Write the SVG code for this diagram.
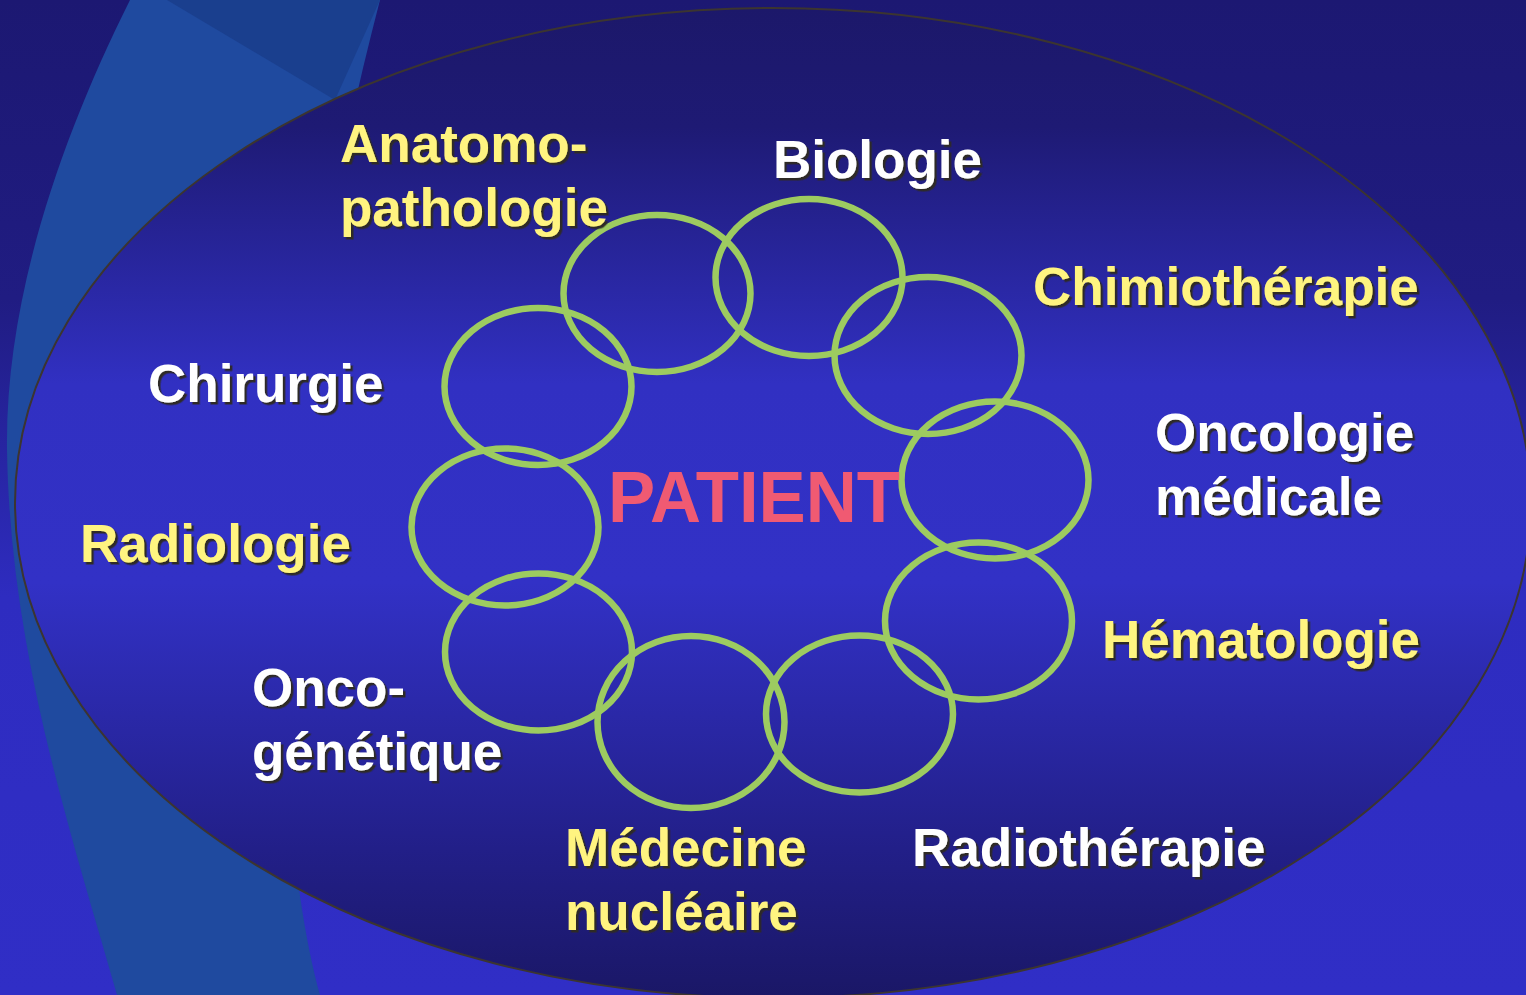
<svg xmlns="http://www.w3.org/2000/svg" width="1526" height="995" viewBox="0 0 1526 995">
<defs>
<linearGradient id="bg" x1="0" y1="0" x2="0" y2="995" gradientUnits="userSpaceOnUse">
<stop offset="0" stop-color="#1c1872"/>
<stop offset="0.3" stop-color="#201c82"/>
<stop offset="0.6" stop-color="#2e2cc0"/>
<stop offset="1" stop-color="#302ec6"/>
</linearGradient>
<linearGradient id="ell" x1="0" y1="8" x2="0" y2="998" gradientUnits="userSpaceOnUse">
<stop offset="0" stop-color="#1c186a"/>
<stop offset="0.12" stop-color="#1e1a74"/>
<stop offset="0.38" stop-color="#3130c2"/>
<stop offset="0.58" stop-color="#3231c6"/>
<stop offset="0.85" stop-color="#221f88"/>
<stop offset="1" stop-color="#1a1766"/>
</linearGradient>
<filter id="sh" x="-5%" y="-20%" width="110%" height="140%">
<feDropShadow dx="2.5" dy="2.5" stdDeviation="0.3" flood-color="#2f2a26" flood-opacity="1"/>
</filter>
<style>
.lbl{font-family:"Liberation Sans",Arial,Helvetica,sans-serif;font-weight:bold;font-size:53px;filter:url(#sh)}
.y{fill:#fff480}
.w{fill:#ffffff}
.ring{fill:none;stroke:#9dcb60;stroke-width:6.5}
.pat{font-family:"Liberation Sans",Arial,Helvetica,sans-serif;font-weight:bold;font-size:72px;fill:#f05a72}
</style>
</defs>
<rect x="0" y="0" width="1526" height="995" fill="url(#bg)"/>
<path d="M130,0 C60,140 5,300 7,450 C10,650 70,830 117,995 L320,995 C280,850 250,500 380,0 Z" fill="#1f4a9f"/>
<path d="M167,0 L380,0 L335,100 Z" fill="#1a3f8e"/>
<ellipse cx="773" cy="503" rx="758" ry="495" fill="url(#ell)" stroke="#3c3530" stroke-width="2"/>
<g id="connectors"></g>
<g id="n-anatomo"><ellipse class="ring" cx="657" cy="293.5" rx="93.5" ry="78.5"/><text class="lbl y" x="340" y="162">Anatomo-</text><text class="lbl y" x="340" y="226">pathologie</text></g>
<g id="n-biologie"><ellipse class="ring" cx="809" cy="277.5" rx="93.5" ry="78.5"/><text class="lbl w" x="773" y="178">Biologie</text></g>
<g id="n-chimio"><ellipse class="ring" cx="928" cy="355.5" rx="93.5" ry="78.5"/><text class="lbl y" x="1033" y="305">Chimiothérapie</text></g>
<g id="n-oncomed"><ellipse class="ring" cx="995" cy="480" rx="93.5" ry="78.5"/><text class="lbl w" x="1155" y="451">Oncologie</text><text class="lbl w" x="1155" y="515">médicale</text></g>
<g id="n-hemato"><ellipse class="ring" cx="978.5" cy="621" rx="93.5" ry="78.5"/><text class="lbl y" x="1102" y="658">Hématologie</text></g>
<g id="n-radiotherapie"><ellipse class="ring" cx="859.5" cy="714" rx="93.5" ry="78.5"/><text class="lbl w" x="912" y="866">Radiothérapie</text></g>
<g id="n-medecine"><ellipse class="ring" cx="691" cy="722" rx="93.5" ry="86"/><text class="lbl y" x="565" y="866">Médecine</text><text class="lbl y" x="565" y="930">nucléaire</text></g>
<g id="n-oncogen"><ellipse class="ring" cx="538.5" cy="652" rx="93.5" ry="78.5"/><text class="lbl w" x="252" y="706">Onco-</text><text class="lbl w" x="252" y="770">génétique</text></g>
<g id="n-radiologie"><ellipse class="ring" cx="505" cy="527" rx="93.5" ry="78.5"/><text class="lbl y" x="80" y="562">Radiologie</text></g>
<g id="n-chirurgie"><ellipse class="ring" cx="538" cy="386.5" rx="93.5" ry="78.5"/><text class="lbl w" x="148" y="402">Chirurgie</text></g>
<g id="n-patient"><text class="pat" x="608" y="522" textLength="292" lengthAdjust="spacingAndGlyphs">PATIENT</text></g>
</svg>
